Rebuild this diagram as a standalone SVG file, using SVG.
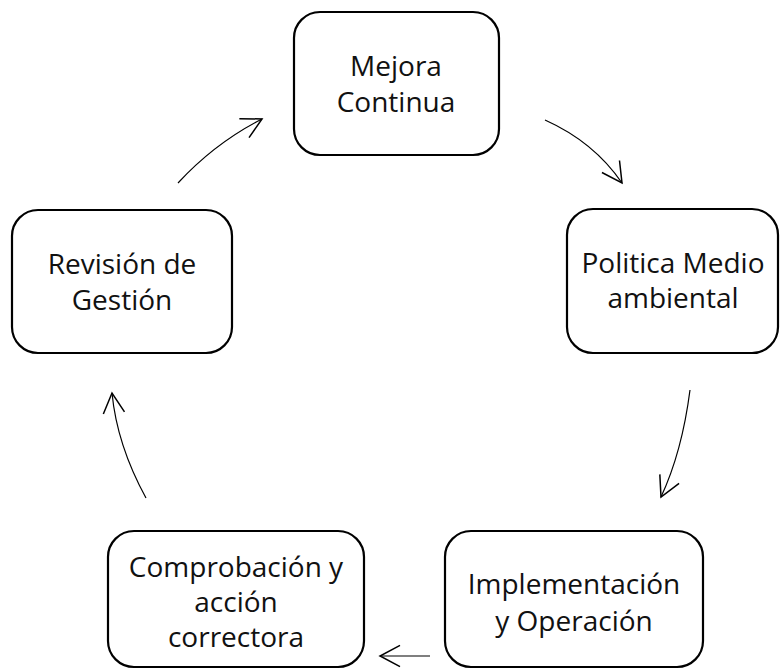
<svg xmlns="http://www.w3.org/2000/svg" width="780" height="669" viewBox="0 0 780 669">
<style>
.box{fill:#fff;stroke:#000;stroke-width:2.2}
.lbl{font-family:"Open Sans","Liberation Sans",Arial,sans-serif;font-size:28px;fill:#111;text-anchor:middle}
.con{fill:none;stroke:#000;stroke-width:1.2}
</style>
<defs>
<marker id="ah" markerUnits="userSpaceOnUse" markerWidth="30" markerHeight="30" refX="0" refY="0" viewBox="-20 -12 24 24" orient="auto" overflow="visible">
<path d="M-16,-8.5 L0,0 L-16,8.5" fill="none" stroke="#000" stroke-width="1.2"/>
</marker>
</defs>
<rect width="780" height="669" fill="#fff"/>
<g id="n-mejora">
<rect class="box" x="294" y="12" width="205" height="143" rx="26"/>
<text class="lbl" x="396" y="76">Mejora</text>
<text class="lbl" x="396" y="112">Continua</text>
</g>
<g id="n-politica">
<rect class="box" x="567" y="209" width="211" height="144" rx="26"/>
<text class="lbl" x="673" y="273">Politica Medio</text>
<text class="lbl" x="673" y="308">ambiental</text>
</g>
<g id="n-revision">
<rect class="box" x="12" y="210" width="220" height="143" rx="26"/>
<text class="lbl" x="122" y="274">Revisión de</text>
<text class="lbl" x="122" y="310">Gestión</text>
</g>
<g id="n-implementacion">
<rect class="box" x="445" y="531" width="258" height="136" rx="26"/>
<text class="lbl" x="574" y="594">Implementación</text>
<text class="lbl" x="574" y="631">y Operación</text>
</g>
<g id="n-comprobacion">
<rect class="box" x="108" y="531" width="256" height="136" rx="26"/>
<text class="lbl" x="236" y="577">Comprobación y</text>
<text class="lbl" x="236" y="612">acción</text>
<text class="lbl" x="236" y="647">correctora</text>
</g>
<g id="connectors">
<path class="con" d="M545,120 Q594,142 622,183" marker-end="url(#ah)"/>
<path class="con" d="M690,390 Q682,452 661,497" marker-end="url(#ah)"/>
<path class="con" d="M430,656 L380,656" marker-end="url(#ah)"/>
<path class="con" d="M146,498 Q117,445 112,393" marker-end="url(#ah)"/>
<path class="con" d="M178,183 Q215,143 262,119" marker-end="url(#ah)"/>
</g>
</svg>
